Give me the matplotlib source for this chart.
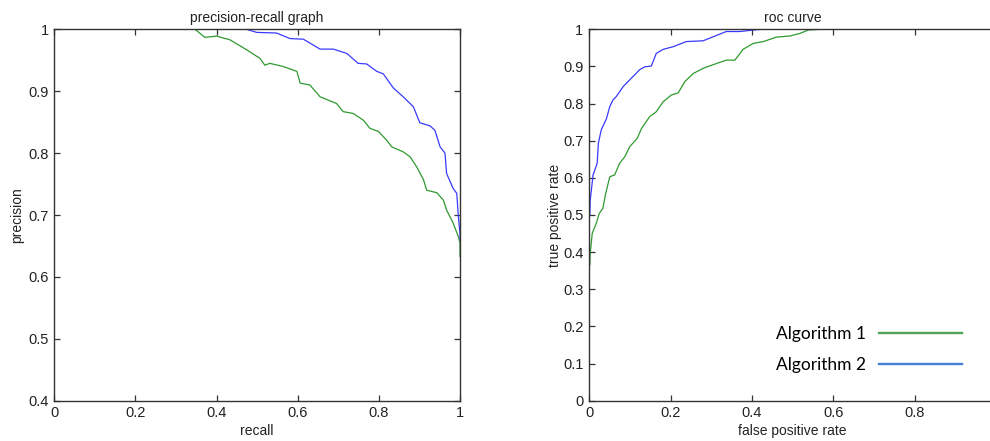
import matplotlib
matplotlib.use("Agg")
import matplotlib.pyplot as plt
from matplotlib.lines import Line2D
from matplotlib.ticker import FuncFormatter

# ---- data ----
pr_recall_1 = [0.347, 0.371, 0.40, 0.433, 0.474, 0.507, 0.519, 0.531, 0.564, 0.598, 0.606, 0.63,
               0.655, 0.696, 0.712, 0.737, 0.762, 0.778, 0.799, 0.819, 0.832, 0.860, 0.877, 0.893,
               0.910, 0.918, 0.943, 0.959, 0.967, 0.983, 0.996, 1.0, 1.0]
pr_precision_1 = [1.0, 0.987, 0.989, 0.983, 0.967, 0.953, 0.942, 0.945, 0.94, 0.932, 0.913, 0.91,
                  0.891, 0.880, 0.867, 0.864, 0.853, 0.840, 0.835, 0.821, 0.810, 0.802, 0.794, 0.778,
                  0.757, 0.740, 0.736, 0.724, 0.708, 0.687, 0.665, 0.655, 0.633]

pr_recall_2 = [0.474, 0.499, 0.548, 0.581, 0.614, 0.655, 0.688, 0.721, 0.749, 0.770, 0.795, 0.811,
               0.836, 0.860, 0.885, 0.901, 0.926, 0.938, 0.951, 0.963, 0.967, 0.983, 0.992, 0.996,
               1.0, 1.0]
pr_precision_2 = [1.0, 0.995, 0.994, 0.985, 0.984, 0.968, 0.968, 0.961, 0.945, 0.944, 0.932, 0.928,
                  0.905, 0.891, 0.875, 0.849, 0.844, 0.837, 0.810, 0.800, 0.767, 0.743, 0.735, 0.697,
                  0.67, 0.66]

roc_fpr_1 = [0.0, 0.002, 0.003, 0.008, 0.018, 0.025, 0.034, 0.041, 0.051, 0.063, 0.075, 0.088,
             0.100, 0.118, 0.129, 0.149, 0.165, 0.182, 0.202, 0.219, 0.235, 0.256, 0.280, 0.313,
             0.337, 0.358, 0.378, 0.403, 0.428, 0.460, 0.493, 0.518, 0.538, 0.567]
roc_tpr_1 = [0.365, 0.365, 0.397, 0.451, 0.478, 0.504, 0.518, 0.558, 0.603, 0.608, 0.639, 0.657,
             0.684, 0.706, 0.733, 0.765, 0.778, 0.805, 0.823, 0.829, 0.859, 0.881, 0.895, 0.908,
             0.917, 0.917, 0.946, 0.962, 0.967, 0.979, 0.982, 0.989, 0.998, 1.0]

roc_fpr_2 = [0.0, 0.002, 0.003, 0.010, 0.020, 0.023, 0.030, 0.043, 0.051, 0.059, 0.067, 0.084,
             0.100, 0.124, 0.137, 0.153, 0.165, 0.182, 0.206, 0.239, 0.280, 0.305, 0.337, 0.370,
             0.403, 0.423]
roc_tpr_2 = [0.5, 0.5, 0.540, 0.608, 0.639, 0.693, 0.729, 0.760, 0.792, 0.810, 0.819, 0.846,
             0.864, 0.891, 0.899, 0.901, 0.935, 0.946, 0.953, 0.967, 0.969, 0.980, 0.994, 0.994,
             0.998, 1.0]

series_names = ["Algorithm 1", "Algorithm 2"]
pr_yticks = [0.4, 0.5, 0.6, 0.7, 0.8, 0.9, 1.0]
roc_yticks = [0, 0.1, 0.2, 0.3, 0.4, 0.5, 0.6, 0.7, 0.8, 0.9, 1.0]
xticks = [0, 0.2, 0.4, 0.6, 0.8, 1.0]
roc_xticklabels = ["0", "0.2", "0.4", "0.6", "0.8", ""]

# ---- styling ----
plt.rcParams['font.family'] = ['Liberation Sans', 'DejaVu Sans']
c_green = '#2f9a2f'
c_blue = '#3a3aff'
leg_green = '#4fa55a'
leg_blue = '#4a7fd8'
spine_c = '#333333'
tick_c = '#333333'

W, H = 990, 441
fig = plt.figure(figsize=(W / 100, H / 100), dpi=100)

fmt = FuncFormatter(lambda v, p: '%g' % round(v, 2))


def style(ax):
    for s in ax.spines.values():
        s.set_color(spine_c)
        s.set_linewidth(1.0)
    ax.tick_params(direction='in', length=4, width=0.9, color=tick_c,
                   top=True, right=True, labelsize=10.5, labelcolor='#222222', pad=4)
    ax.xaxis.set_major_formatter(fmt)
    ax.yaxis.set_major_formatter(fmt)


ax1 = fig.add_axes([54.3 / W, (H - 400.7) / H, 405.7 / W, 371.4 / H])
ax1.plot(pr_recall_1, pr_precision_1, color=c_green, lw=0.9)
ax1.plot(pr_recall_2, pr_precision_2, color=c_blue, lw=0.9)
ax1.set_xlim(0, 1)
ax1.set_ylim(0.4, 1)
ax1.set_xticks(xticks)
ax1.set_yticks(pr_yticks)
style(ax1)
ax1.set_title('precision-recall graph', fontsize=10, pad=5, color='#222222')
ax1.set_xlabel('recall', fontsize=10, labelpad=3, color='#222222')
ax1.set_ylabel('precision', fontsize=10, labelpad=3, color='#222222')

ax2 = fig.add_axes([589 / W, (H - 400.7) / H, 407.5 / W, 371.4 / H])
ax2.plot(roc_fpr_1, roc_tpr_1, color=c_green, lw=0.9)
ax2.plot(roc_fpr_2, roc_tpr_2, color=c_blue, lw=0.9)
ax2.set_xlim(0, 1)
ax2.set_ylim(0, 1)
ax2.set_xticks(xticks)
ax2.set_yticks(roc_yticks)
style(ax2)
ax2.set_xticklabels(roc_xticklabels)
ax2.set_title('roc curve', fontsize=10, pad=5, color='#222222')
ax2.set_xlabel('false positive rate', fontsize=10, labelpad=3, color='#222222')
ax2.set_ylabel('true positive rate', fontsize=10, labelpad=1, color='#222222')

handles = [Line2D([], [], color=leg_green, lw=1.7), Line2D([], [], color=leg_blue, lw=1.7)]
ax2.legend(handles, series_names, loc='lower right',
           bbox_to_anchor=(962 / W, (H - 373) / H), bbox_transform=fig.transFigure,
           frameon=False, markerfirst=False, handlelength=4.8,
           handletextpad=0.75, labelspacing=0.85, borderpad=0, borderaxespad=0,
           prop={'family': ['Lato', 'DejaVu Sans'], 'size': 12.5})

fig.savefig('out.png', dpi=100)
